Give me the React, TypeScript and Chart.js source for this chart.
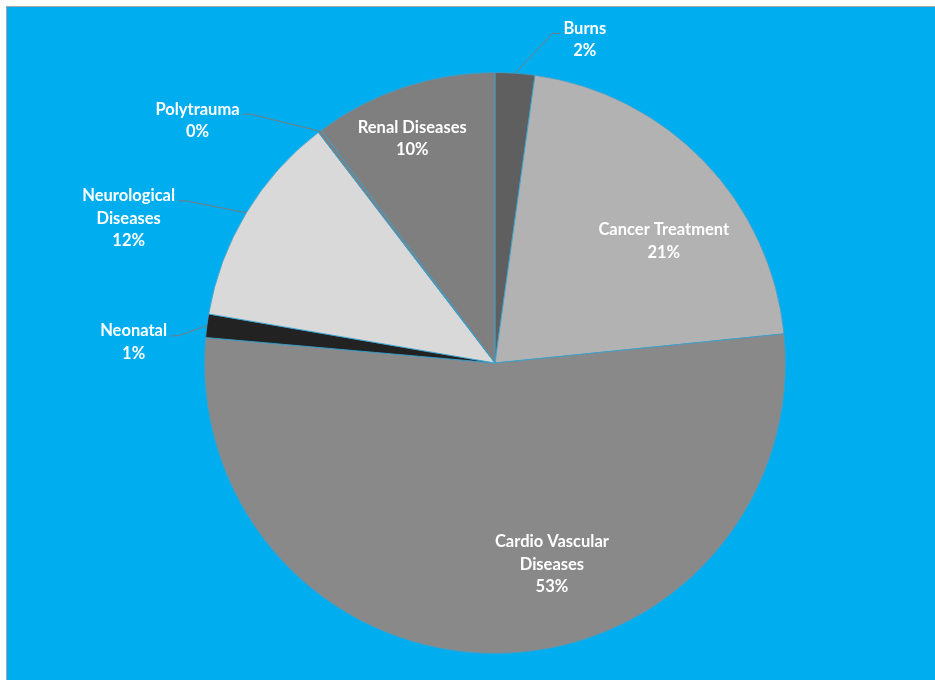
import React, { useEffect, useRef } from 'react';
import { Chart, registerables } from 'chart.js';

Chart.register(...registerables);

// ---- data ----
const categories = [
  'Burns',
  'Cancer Treatment',
  'Cardio Vascular Diseases',
  'Neonatal',
  'Neurological Diseases',
  'Polytrauma',
  'Renal Diseases',
];
const values = [2.2, 21.2, 53.0, 1.3, 11.9, 0.2, 10.2];
const labelLines = [
  ['Burns'],
  ['Cancer Treatment'],
  ['Cardio Vascular', 'Diseases'],
  ['Neonatal'],
  ['Neurological', 'Diseases'],
  ['Polytrauma'],
  ['Renal Diseases'],
];
const sliceColors = ['#5f5f5f', '#b2b2b2', '#898989', '#222222', '#d9d9d9', '#7f7f7f', '#7f7f7f'];

// ---- label layout (in units of the pie radius, relative to its centre) ----
const labelOffsets: [number, number][] = [
  [0.309, -1.113],
  [0.581, -0.419],
  [0.196, 0.694],
  [-1.244, -0.072],
  [-1.261, -0.498],
  [-1.024, -0.835],
  [-0.285, -0.773],
];
const hasLeader = [true, false, false, true, true, true, false];

const FONT = 'bold 16.5px Lato, "Open Sans", sans-serif';
const LINE_H = 22.5;

const labelPlugin = {
  id: 'sliceLabels',
  afterDatasetsDraw(chart: any) {
    const ctx = chart.ctx as CanvasRenderingContext2D;
    const meta = chart.getDatasetMeta(0);
    const total = values.reduce((a, b) => a + b, 0);
    ctx.save();
    ctx.font = FONT;
    ctx.textAlign = 'center';
    ctx.textBaseline = 'middle';
    meta.data.forEach((arc: any, i: number) => {
      const { x, y, startAngle, endAngle, outerRadius } = arc.getProps(
        ['x', 'y', 'startAngle', 'endAngle', 'outerRadius'],
        true
      );
      const [fx, fy] = labelOffsets[i];
      const cx = x + fx * outerRadius;
      const cy = y + fy * outerRadius;
      const pct = Math.round((values[i] / total) * 100) + '%';
      const lines = [...labelLines[i], pct];
      const top = cy - ((lines.length - 1) * LINE_H) / 2;
      if (hasLeader[i]) {
        const mid = (startAngle + endAngle) / 2;
        const ex = x + Math.cos(mid) * outerRadius;
        const ey = y + Math.sin(mid) * outerRadius;
        const w = Math.max(...lines.map((l) => ctx.measureText(l).width));
        const side = fx < 0 ? 1 : -1;
        const ax = cx + side * (w / 2 + 3);
        const ay = top + 5;
        const bx = ax + side * 8;
        ctx.beginPath();
        ctx.moveTo(ax, ay);
        ctx.lineTo(bx, ay);
        ctx.lineTo(ex, ey);
        ctx.strokeStyle = '#7a7a7a';
        ctx.lineWidth = 1;
        ctx.stroke();
      }
      ctx.fillStyle = '#ffffff';
      lines.forEach((l, k) => ctx.fillText(l, cx, top + k * LINE_H));
    });
    ctx.restore();
  },
};

export default function App() {
  const ref = useRef<HTMLCanvasElement>(null);
  useEffect(() => {
    if (!ref.current) return;
    const chart = new Chart(ref.current, {
      type: 'pie',
      data: {
        labels: categories,
        datasets: [
          {
            data: values,
            backgroundColor: sliceColors,
            borderColor: 'rgba(60,160,205,0.85)',
            borderWidth: 1,
          },
        ],
      },
      options: {
        responsive: false,
        animation: false,
        layout: { padding: { left: 197, right: 161, top: 65, bottom: 26 } },
        plugins: {
          legend: { display: false },
          tooltip: { enabled: false },
        },
      },
      plugins: [labelPlugin],
    });
    return () => chart.destroy();
  }, []);
  return (
    <div
      style={{
        position: 'fixed',
        left: 6,
        top: 6,
        width: 940,
        height: 680,
        borderTop: '1px solid #a6a6a6',
        borderLeft: '1px solid #a6a6a6',
        background: '#00AEEF',
      }}
    >
      <canvas ref={ref} width={940} height={673} style={{ display: 'block' }} />
    </div>
  );
}
